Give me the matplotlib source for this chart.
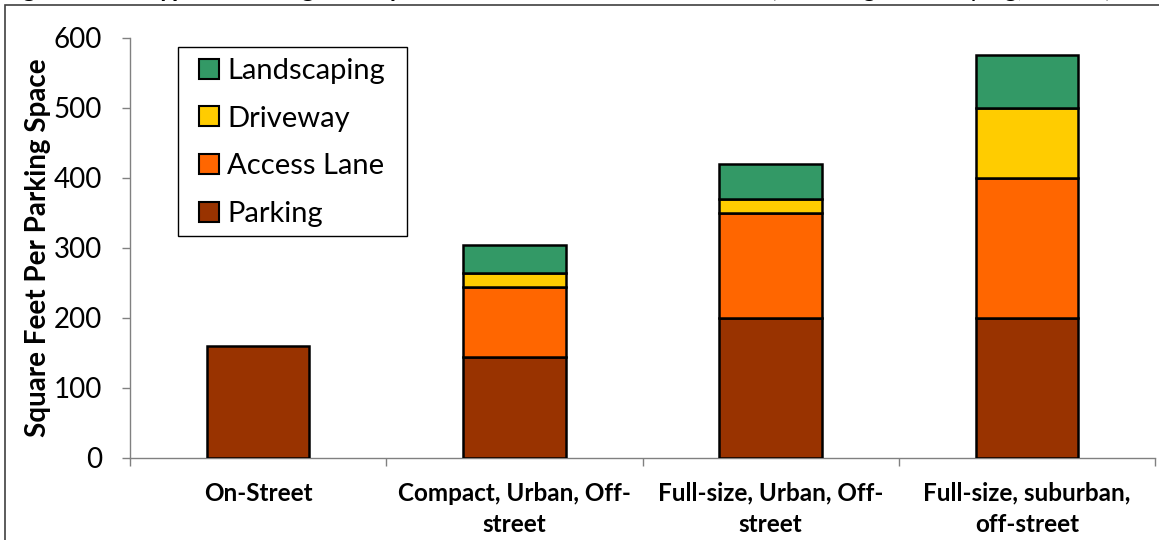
import matplotlib
matplotlib.use("Agg")
import matplotlib.pyplot as plt
from matplotlib.patches import Rectangle, Patch
import numpy as np

categories = ["On-Street", "Compact, Urban, Off-\nstreet",
              "Full-size, Urban, Off-\nstreet", "Full-size, suburban,\noff-street"]
parking = [160, 144, 200, 200]
access_lane = [0, 100, 150, 200]
driveway = [0, 20, 20, 100]
landscaping = [0, 40, 50, 75]
yticks = [0, 100, 200, 300, 400, 500, 600]

colors = {"Parking": "#993300", "Access Lane": "#FF6600",
          "Driveway": "#FFCC00", "Landscaping": "#339966"}

plt.rcParams["font.family"] = ["Lato", "DejaVu Sans"]

W, H = 1159, 540
fig = plt.figure(figsize=(W / 100, H / 100), dpi=100)
ax = fig.add_axes([130 / W, 1 - 458 / H, (1155 - 130) / W, (458 - 38) / H])

x = np.arange(len(categories))
series = [("Parking", parking), ("Access Lane", access_lane),
          ("Driveway", driveway), ("Landscaping", landscaping)]
bottom = np.zeros(len(categories))
for name, vals in series:
    vals = np.array(vals, dtype=float)
    mask = vals > 0
    ax.bar(x[mask], vals[mask], width=0.4, bottom=bottom[mask],
           color=colors[name], edgecolor="black", linewidth=1.8, zorder=3)
    bottom += vals

ax.set_xlim(-0.5, len(categories) - 0.5)
ax.set_ylim(0, 600)
ax.set_yticks(yticks)
ax.set_yticklabels([str(v) for v in yticks], fontsize=20)
ax.set_xticks(np.arange(len(categories) + 1) - 0.5, minor=False)
ax.set_xticklabels([])
ax.set_xticks(x, minor=True)
ax.set_xticklabels(categories, minor=True, fontsize=17.5, fontweight="bold",
                   linespacing=1.45)
ax.tick_params(axis="x", which="minor", length=0, pad=17)
ax.tick_params(axis="x", which="major", length=6, color="#808080", width=1)
ax.tick_params(axis="y", length=6, color="#808080", width=1, pad=14)

for s in ["top", "right"]:
    ax.spines[s].set_visible(False)
for s in ["left", "bottom"]:
    ax.spines[s].set_color("#808080")
    ax.spines[s].set_linewidth(1)

ax.set_ylabel("Square Feet Per Parking Space", fontsize=20, fontweight="bold",
              labelpad=2)

# legend (entries without frame) plus a separate box behind it
names = ["Landscaping", "Driveway", "Access Lane", "Parking"]
handles = [Patch(facecolor=colors[n], edgecolor="black", linewidth=1.5)
           for n in names]
leg = ax.legend(handles, names, loc="upper left",
                bbox_to_anchor=(199 / W, 1 - 58 / H),
                bbox_transform=fig.transFigure, fontsize=21, frameon=False,
                handlelength=0.68, handleheight=0.68, handletextpad=0.28,
                labelspacing=0.74, borderpad=0, borderaxespad=0)
leg.set_zorder(6)
ax.add_patch(Rectangle((178 / W, 1 - 236 / H), (407 - 178) / W,
                       (236 - 47) / H, transform=fig.transFigure,
                       facecolor="white", edgecolor="black",
                       linewidth=1, zorder=5, clip_on=False))

# chart-area border
fig.patches.append(Rectangle((5 / W, -0.1), 1.2, 1 - 5 / H + 0.1,
                             transform=fig.transFigure, fill=False,
                             edgecolor="#404040", linewidth=1.2))

# title, mostly above the visible area
fig.text(2 / W, 1 + 3 / H, "Figure 5.4-1 Typical Parking Facility Land Use",
         fontsize=18, fontweight="bold", va="baseline", ha="left")
fig.text(770 / W, 1 + 3 / H, "(Including Landscaping, Access)",
         fontsize=18, va="baseline", ha="left")

fig.savefig("out.png", dpi=100)
